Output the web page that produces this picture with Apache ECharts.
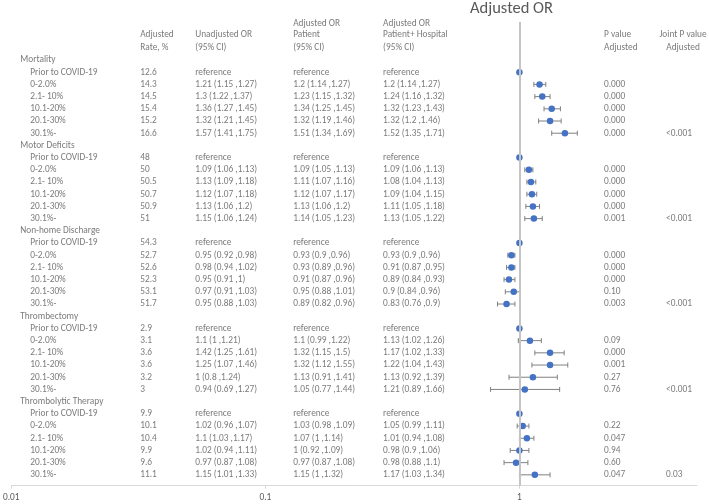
<!DOCTYPE html>
<html><head><meta charset="utf-8">
<script src="https://cdn.jsdelivr.net/npm/echarts@6/dist/echarts.min.js"></script>
<style>html,body{margin:0;padding:0;background:#fff}#c{width:709px;height:504px}</style>
</head><body><div id="c"></div>
<script>
// ---------- data ----------
const groups = ['Mortality', 'Motor Deficits', 'Non-home Discharge', 'Thrombectomy', 'Thrombolytic Therapy'];
const periods = ['Prior to COVID-19', '0-2.0%', '2.1- 10%', '10.1-20%', '20.1-30%', '30.1%-'];
const xTicks = [0.01, 0.1, 1];

const rates = [
  [12.6, 14.3, 14.5, 15.4, 15.2, 16.6],
  [48, 50, 50.5, 50.7, 50.9, 51],
  [54.3, 52.7, 52.6, 52.3, 53.1, 51.7],
  [2.9, 3.1, 3.6, 3.6, 3.2, 3],
  [9.9, 10.1, 10.4, 9.9, 9.6, 11.1]
];
// Unadjusted OR (periods 2..6)
const unadjOR = [[1.21,1.3,1.36,1.32,1.57],[1.09,1.13,1.12,1.13,1.15],[0.95,0.98,0.95,0.97,0.95],[1.1,1.42,1.25,1,0.94],[1.02,1.1,1.02,0.97,1.15]];
const unadjLo = [[1.15,1.22,1.27,1.21,1.41],[1.06,1.09,1.07,1.06,1.06],[0.92,0.94,0.91,0.91,0.88],[1,1.25,1.07,0.8,0.69],[0.96,1.03,0.94,0.87,1.01]];
const unadjHi = [[1.27,1.37,1.45,1.45,1.75],[1.13,1.18,1.18,1.2,1.24],[0.98,1.02,1,1.03,1.03],[1.21,1.61,1.46,1.24,1.27],[1.07,1.17,1.11,1.08,1.33]];
// Adjusted OR Patient (plotted)
const patOR = [[1.2,1.23,1.34,1.32,1.51],[1.09,1.11,1.12,1.13,1.14],[0.93,0.93,0.91,0.95,0.89],[1.1,1.32,1.32,1.13,1.05],[1.03,1.07,1,0.97,1.15]];
const patLo = [[1.14,1.15,1.25,1.19,1.34],[1.05,1.07,1.07,1.06,1.05],[0.9,0.89,0.87,0.88,0.82],[0.99,1.15,1.12,0.91,0.77],[0.98,1,0.92,0.87,1]];
const patHi = [[1.27,1.32,1.45,1.46,1.69],[1.13,1.16,1.17,1.2,1.23],[0.96,0.96,0.96,1.01,0.96],[1.22,1.5,1.55,1.41,1.44],[1.09,1.14,1.09,1.08,1.32]];
// Adjusted OR Patient + Hospital
const phOR = [[1.2,1.24,1.32,1.32,1.52],[1.09,1.08,1.09,1.11,1.13],[0.93,0.91,0.89,0.9,0.83],[1.13,1.17,1.22,1.13,1.21],[1.05,1.01,0.98,0.98,1.17]];
const phLo = [[1.14,1.16,1.23,1.2,1.35],[1.06,1.04,1.04,1.05,1.05],[0.9,0.87,0.84,0.84,0.76],[1.02,1.02,1.04,0.92,0.89],[0.99,0.94,0.9,0.88,1.03]];
const phHi = [[1.27,1.32,1.43,1.46,1.71],[1.13,1.13,1.15,1.18,1.22],[0.96,0.95,0.93,0.96,0.9],[1.26,1.33,1.43,1.39,1.66],[1.11,1.08,1.06,1.1,1.34]];
const pAdj = [
  ['0.000','0.000','0.000','0.000','0.000'],
  ['0.000','0.000','0.000','0.000','0.001'],
  ['0.000','0.000','0.000','0.10','0.003'],
  ['0.09','0.000','0.001','0.27','0.76'],
  ['0.22','0.047','0.94','0.60','0.047']
];
const jointP = ['<0.001', '<0.001', '<0.001', '<0.001', '0.03'];

// ---------- layout (code constants) ----------
const COL = {group: 20, sub: 30, rate: 140, unadj: 195, pat: 293, ph: 383, p: 604, joint: 666};
const HY = [-2.98, -2.05, -0.98];
const TXT = '#595959';
const FONT = 'Carlito, Lato, sans-serif';
const FS = 9.33;

const ci = (o, l, h) => `${o} (${l} ,${h})`;
const texts = [];
const leftTexts = (x, r, t) => texts.push([x, r, t]);
const dots = [], bars = [];

groups.forEach((g, gi) => {
  const r0 = gi * 7;
  leftTexts(COL.group, r0, g);
  periods.forEach((p, pi) => {
    const r = r0 + 1 + pi;
    leftTexts(COL.sub, r, p);
    leftTexts(COL.rate, r, String(rates[gi][pi]));
    if (pi === 0) {
      leftTexts(COL.unadj, r, 'reference');
      leftTexts(COL.pat, r, 'reference');
      leftTexts(COL.ph, r, 'reference');
      dots.push([1, r]);
    } else {
      const k = pi - 1;
      leftTexts(COL.unadj, r, ci(unadjOR[gi][k], unadjLo[gi][k], unadjHi[gi][k]));
      leftTexts(COL.pat, r, ci(patOR[gi][k], patLo[gi][k], patHi[gi][k]));
      leftTexts(COL.ph, r, ci(phOR[gi][k], phLo[gi][k], phHi[gi][k]));
      leftTexts(COL.p, r, pAdj[gi][k]);
      dots.push([patOR[gi][k], r]);
      bars.push([patLo[gi][k], patHi[gi][k], r]);
      if (pi === 5) leftTexts(COL.joint, r, jointP[gi]);
    }
  });
});
// headers
leftTexts(COL.rate, HY[1], 'Adjusted'); leftTexts(COL.rate, HY[2], 'Rate, %');
leftTexts(COL.unadj, HY[1], 'Unadjusted OR'); leftTexts(COL.unadj, HY[2], '(95% CI)');
leftTexts(COL.pat, HY[0], 'Adjusted OR'); leftTexts(COL.pat, HY[1], 'Patient'); leftTexts(COL.pat, HY[2], '(95% CI)');
leftTexts(COL.ph, HY[0], 'Adjusted OR'); leftTexts(COL.ph, HY[1], 'Patient+ Hospital'); leftTexts(COL.ph, HY[2], '(95% CI)');
leftTexts(COL.p, HY[1], 'P value'); leftTexts(COL.p, HY[2], 'Adjusted');
const centerTexts = [[683, HY[1], 'Joint P value'], [683, HY[2], 'Adjusted']];

const chart = echarts.init(document.getElementById('c'), null, {renderer: 'canvas'});
const labelStyle = {show: true, distance: 0, formatter: p => p.value[2], color: TXT, fontSize: FS, fontFamily: FONT};
chart.setOption({
  animation: false,
  title: {text: 'Adjusted OR', left: 511.5, top: 0, padding: 0, textAlign: 'center',
    textStyle: {color: TXT, fontSize: 16.5, fontWeight: 'normal', fontFamily: FONT}},
  grid: {left: 11, right: 12, top: 22, bottom: 18.3, containLabel: false},
  xAxis: [
    {type: 'log', logBase: 10, min: 0.01, max: 5,
      axisLine: {show: true, onZero: false, lineStyle: {color: '#d9d9d9', width: 1}},
      axisTick: {show: true, length: 3, customValues: xTicks, lineStyle: {color: '#d9d9d9'}},
      axisLabel: {customValues: xTicks, color: TXT, fontSize: FS, fontFamily: FONT, margin: 7,
        formatter: v => String(v)},
      splitLine: {show: false}},
    {type: 'value', min: 11, max: 697, show: false}
  ],
  yAxis: {type: 'value', inverse: true, min: -3.115, max: 34.89, show: false},
  series: [
    {type: 'scatter', xAxisIndex: 0, data: [], z: 1, silent: true,
      markLine: {symbol: 'none', silent: true, label: {show: false},
        lineStyle: {color: '#c4c4c4', width: 2, type: 'solid'}, data: [{xAxis: 1}]}},
    {type: 'custom', xAxisIndex: 0, data: bars, z: 2, silent: true,
      renderItem: (params, api) => {
        const a = api.coord([api.value(0), api.value(2)]);
        const b = api.coord([api.value(1), api.value(2)]);
        const h = 2.5;
        const st = {stroke: '#808080', lineWidth: 1};
        return {type: 'group', children: [
          {type: 'line', shape: {x1: a[0], y1: a[1], x2: b[0], y2: b[1]}, style: st},
          {type: 'line', shape: {x1: a[0], y1: a[1] - h, x2: a[0], y2: a[1] + h}, style: st},
          {type: 'line', shape: {x1: b[0], y1: b[1] - h, x2: b[0], y2: b[1] + h}, style: st}
        ]};
      }},
    {type: 'scatter', xAxisIndex: 0, data: dots, z: 3, symbolSize: 6.5, silent: true,
      itemStyle: {color: '#4472C4', opacity: 1}},
    {type: 'scatter', xAxisIndex: 1, data: texts, symbolSize: 0, silent: true,
      label: Object.assign({position: 'right'}, labelStyle)},
    {type: 'scatter', xAxisIndex: 1, data: centerTexts, symbolSize: 0, silent: true,
      label: Object.assign({position: 'inside', align: 'center'}, labelStyle)}
  ]
});
</script></body></html>
